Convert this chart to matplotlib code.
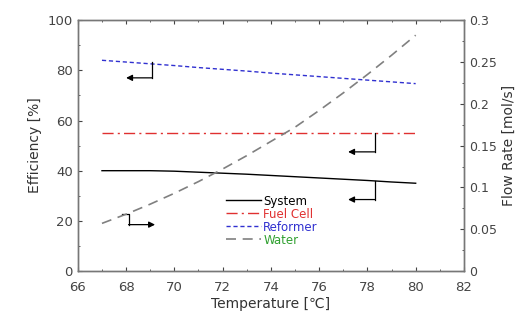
import matplotlib
matplotlib.use('Agg')
import matplotlib.pyplot as plt
from matplotlib.ticker import MultipleLocator, FuncFormatter

plt.rcParams['font.family'] = ['DejaVu Sans']
plt.rcParams['font.size'] = 9

# temperature [C]
temp = [67, 68, 69, 70, 71, 72, 73, 74, 75, 76, 77, 78, 79, 80]

# efficiencies [%]
system = [40, 40, 40, 39.8, 39.4, 39, 38.6, 38.1, 37.6, 37.1, 36.6, 36.1, 35.5, 35]
fuel_cell = [55] * 14
reformer = [84, 83.3, 82.6, 81.9, 81.1, 80.4, 79.7, 78.9, 78.2, 77.5, 76.8, 76.1, 75.4, 74.7]

# water flow rate [mol/s]
water = [0.057, 0.068, 0.08, 0.093, 0.107, 0.122, 0.138, 0.155, 0.172,
         0.192, 0.213, 0.235, 0.258, 0.282]

fig = plt.figure(figsize=(5.26, 3.25), dpi=100)
ax = fig.add_axes([0.148, 0.166, 0.734, 0.772])
ax2 = ax.twinx()

l1, = ax.plot(temp, system, color='black', lw=1.0, label='System')
l2, = ax.plot(temp, fuel_cell, color='#e03030', lw=1.0, dashes=(8, 3, 1.5, 3), label='Fuel Cell')
l3, = ax.plot(temp, reformer, color='#3030d0', lw=1.0, dashes=(3, 2), label='Reformer')
l4, = ax2.plot(temp, water, color='#808080', lw=1.2, dashes=(6, 4), label='Water')

ax.set_xlim(66, 82)
ax.set_ylim(0, 100)
ax2.set_ylim(0, 0.3)
ax.xaxis.set_major_locator(MultipleLocator(2))
ax.yaxis.set_major_locator(MultipleLocator(20))
ax2.yaxis.set_major_locator(MultipleLocator(0.05))
ax2.yaxis.set_major_formatter(FuncFormatter(lambda v, p: ('%.2f' % v).rstrip('0').rstrip('.') if v > 1e-9 else '0'))
ax.xaxis.set_minor_locator(MultipleLocator(1))
ax.yaxis.set_minor_locator(MultipleLocator(10))
ax2.yaxis.set_minor_locator(MultipleLocator(0.025))

ax.tick_params(which='both', direction='in', top=True, colors='#444444', labelsize=9.5)
ax.tick_params(which='major', length=3)
ax.tick_params(which='minor', length=1.5)
ax.tick_params(axis='x', which='major', pad=7)
ax2.tick_params(which='both', direction='in', colors='#444444', labelsize=9)
ax2.tick_params(which='major', length=3)
ax2.tick_params(which='minor', length=1.5)
for a in (ax, ax2):
    for s in a.spines.values():
        s.set_color('#777777')
        s.set_linewidth(1.0)

ax.set_xlabel('Temperature [\u2103]', color='#333333', fontsize=10, labelpad=2)
ax.set_ylabel('Efficiency [%]', color='#333333', fontsize=10)
ax2.set_ylabel('Flow Rate [mol/s]', color='#333333', fontsize=10)

# L-shaped arrows pointing to the axis each line belongs to
arrow_kw = dict(arrowstyle='-|>', color='black', lw=0.9, mutation_scale=9,
                shrinkA=0, shrinkB=0)
ax.plot([69.07, 69.07], [83.3, 77], color='black', lw=0.9)
ax.annotate('', xy=(68.0, 77), xytext=(69.07, 77), arrowprops=arrow_kw)
ax.plot([78.3, 78.3], [55, 47.5], color='black', lw=0.9)
ax.annotate('', xy=(77.2, 47.5), xytext=(78.3, 47.5), arrowprops=arrow_kw)
ax.plot([78.3, 78.3], [35.8, 28.5], color='black', lw=0.9)
ax.annotate('', xy=(77.2, 28.5), xytext=(78.3, 28.5), arrowprops=arrow_kw)
ax.plot([67.85, 68.1, 68.1], [22.8, 22.8, 18.5], color='black', lw=0.9)
ax.annotate('', xy=(69.2, 18.5), xytext=(68.1, 18.5), arrowprops=arrow_kw)

leg = ax.legend([l1, l2, l3, l4], ['System', 'Fuel Cell', 'Reformer', 'Water'],
                loc='lower left', bbox_to_anchor=(0.355, 0.055), frameon=False,
                handlelength=3.0, handletextpad=0.2, labelspacing=0.0, fontsize=8.5)
for t, c in zip(leg.get_texts(), ['black', '#e03030', '#3030d0', '#30a030']):
    t.set_color(c)

fig.savefig('out.png', dpi=100)
